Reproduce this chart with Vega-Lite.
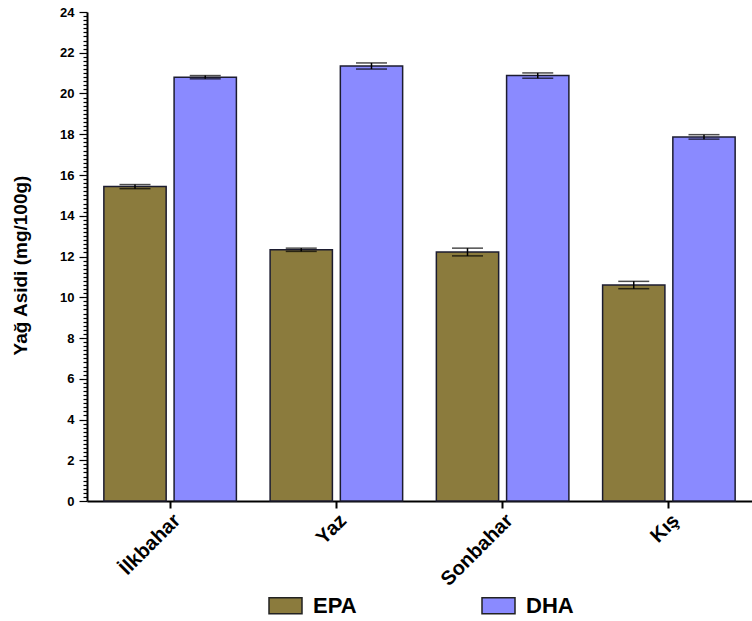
{
  "$schema": "https://vega.github.io/schema/vega-lite/v6.json",
  "width": 665,
  "height": 489,
  "autosize": {"type": "none"},
  "padding": {"left": 87, "top": 12, "right": 0, "bottom": 120},
  "background": "white",
  "config": {"view": {"stroke": null}, "font": "Liberation Sans"},
  "data": {"values": [
    {"season": "İlkbahar", "acid": "EPA", "value": 15.43, "lo": 15.33, "hi": 15.53},
    {"season": "İlkbahar", "acid": "DHA", "value": 20.8, "lo": 20.72, "hi": 20.88},
    {"season": "Yaz", "acid": "EPA", "value": 12.33, "lo": 12.25, "hi": 12.41},
    {"season": "Yaz", "acid": "DHA", "value": 21.35, "lo": 21.2, "hi": 21.5},
    {"season": "Sonbahar", "acid": "EPA", "value": 12.22, "lo": 12.03, "hi": 12.41},
    {"season": "Sonbahar", "acid": "DHA", "value": 20.88, "lo": 20.75, "hi": 21.01},
    {"season": "Kış", "acid": "EPA", "value": 10.6, "lo": 10.42, "hi": 10.78},
    {"season": "Kış", "acid": "DHA", "value": 17.87, "lo": 17.76, "hi": 17.98}
  ]},
  "encoding": {
    "x": {
      "field": "season", "type": "nominal",
      "sort": ["İlkbahar", "Yaz", "Sonbahar", "Kış"],
      "scale": {"paddingInner": 0, "paddingOuter": 0},
      "axis": {
        "title": null, "labelAngle": -45, "labelAlign": "right", "labelBaseline": "top",
        "labelFontSize": 20, "labelFontWeight": "bold", "labelColor": "black",
        "labelPadding": 2, "tickSize": 7, "tickWidth": 2, "tickColor": "black",
        "domainColor": "black", "domainWidth": 2
      }
    },
    "xOffset": {"field": "acid", "type": "nominal", "sort": ["EPA", "DHA"], "scale": {"paddingInner": 0.113, "paddingOuter": 0.24}}
  },
  "layer": [
    {
      "mark": {"type": "bar", "stroke": "#1c1c30", "strokeWidth": 1.5},
      "encoding": {
        "y": {
          "field": "value", "type": "quantitative",
          "scale": {"domain": [0, 24], "nice": false},
          "axis": {
            "title": "Yağ Asidi (mg/100g)", "titleFontSize": 19, "titleFontWeight": "bold", "titleColor": "black", "titlePadding": 29, "titleY": 253,
            "tickCount": 120, "labelOverlap": false, "labelFlush": false,
            "labelExpr": "abs(datum.value/2 - round(datum.value/2)) < 0.01 ? format(datum.value, 'd') : ''",
            "tickSize": {"condition": {"test": "abs(datum.value/2 - round(datum.value/2)) < 0.01", "value": 8}, "value": 4},
            "labelFontSize": 13, "labelFontWeight": "bold", "labelColor": "black", "labelPadding": 5,
            "tickColor": "black", "tickWidth": 1.2, "domainColor": "black", "domainWidth": 2, "grid": false
          }
        },
        "color": {
          "field": "acid", "type": "nominal",
          "scale": {"domain": ["EPA", "DHA"], "range": ["#8B7B3D", "#8A8AFF"]},
          "legend": {
            "title": null, "orient": "none", "legendX": 181, "legendY": 576,
            "direction": "horizontal", "columns": 2, "columnPadding": 122,
            "symbolType": "M-1,-0.485H1V0.485H-1Z", "symbolSize": 1089,
            "symbolStrokeColor": "#222", "symbolStrokeWidth": 1.5,
            "labelFontSize": 22, "labelFontWeight": "bold", "labelColor": "black", "labelOffset": 10
          }
        }
      }
    },
    {
      "mark": {"type": "rule", "color": "black", "strokeWidth": 1.5},
      "encoding": {
        "y": {"field": "lo", "type": "quantitative"},
        "y2": {"field": "hi"}
      }
    },
    {
      "mark": {"type": "tick", "color": "black", "size": 31, "thickness": 1.5},
      "encoding": {"y": {"field": "lo", "type": "quantitative"}}
    },
    {
      "mark": {"type": "tick", "color": "black", "size": 31, "thickness": 1.5},
      "encoding": {"y": {"field": "hi", "type": "quantitative"}}
    }
  ]
}
